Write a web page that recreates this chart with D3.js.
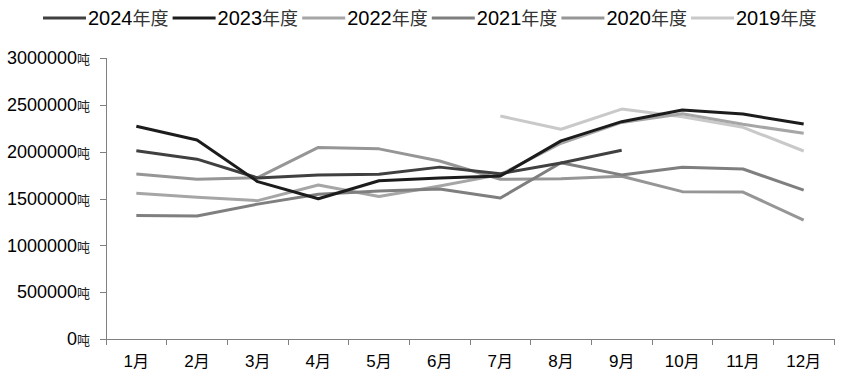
<!DOCTYPE html>
<html>
<head>
<meta charset="utf-8">
<script src="https://cdn.jsdelivr.net/npm/d3@7"></script>
<style>
  body { margin: 0; background: #fff; }
  svg { display: block; }
  .axis path, .axis line { stroke: #808080; shape-rendering: crispEdges; }
  .axis text { fill: #000; }
</style>
</head>
<body>
<svg id="chart" width="844" height="380"></svg>
<script>
// 月份与年度
const months = ['1月', '2月', '3月', '4月', '5月', '6月', '7月', '8月', '9月', '10月', '11月', '12月'];
const years = ['2024年度', '2023年度', '2022年度', '2021年度', '2020年度', '2019年度'];

// 各年度数据（吨），null 表示无数据
const data2024 = [2010000, 1920000, 1720000, 1750000, 1760000, 1835000, 1765000, 1880000, 2015000, null, null, null];
const data2023 = [2272000, 2125000, 1680000, 1498000, 1690000, 1720000, 1740000, 2115000, 2320000, 2445000, 2402000, 2295000];
const data2022 = [1555000, 1513000, 1477000, 1644000, 1522000, 1633000, 1755000, 2090000, 2312000, 2405000, 2292000, 2196000];
const data2021 = [1318000, 1313000, 1440000, 1545000, 1580000, 1602000, 1505000, 1882000, 1752000, 1833000, 1815000, 1590000];
const data2020 = [1761000, 1705000, 1722000, 2045000, 2030000, 1900000, 1705000, 1710000, 1738000, 1573000, 1569000, 1270000];
const data2019 = [null, null, null, null, null, null, 2381000, 2239000, 2455000, 2373000, 2260000, 2007000];

const yTicks = [0, 500000, 1000000, 1500000, 2000000, 2500000, 3000000];

const seriesValues = [data2024, data2023, data2022, data2021, data2020, data2019];
const colors = ['#404040', '#1c1c1c', '#a6a6a6', '#7f7f7f', '#969696', '#c9c9c9'];

const svg = d3.select('#chart');
const margin = { top: 58, right: 10, bottom: 41, left: 106 };
const width = 834 - margin.left;
const height = 339 - margin.top;

const g = svg.append('g')
  .attr('transform', `translate(${margin.left},${margin.top})`);

const x = d3.scaleBand().domain(months).range([0, width]);
const y = d3.scaleLinear().domain([0, 3000000]).range([height, 0]);

// Y 轴
const yAxis = g.append('g')
  .attr('class', 'axis')
  .call(d3.axisLeft(y).tickValues(yTicks).tickSize(6).tickPadding(10).tickFormat(d => d));
yAxis.selectAll('text')
  .style('font-family', 'Arial, "Liberation Sans", sans-serif')
  .style('font-size', '18px')
  .each(function (d) {
    const t = d3.select(this);
    t.text('');
    t.append('tspan').text(d);
    t.append('tspan')
      .style('font-size', '13px')
      .style('font-family', '"Noto Sans CJK SC", sans-serif')
      .style('fill', '#222')
      .text('吨');
  });

// X 轴（刻度在分类边界上）
const xAxis = g.append('g')
  .attr('class', 'axis')
  .attr('transform', `translate(0,${height})`)
  .call(d3.axisBottom(x).tickSize(0).tickPadding(16));
xAxis.selectAll('text')
  .style('font-family', '"Liberation Sans Narrow", "Arial Narrow", sans-serif')
  .style('font-size', '17px')
  .each(function () {
    const t = d3.select(this);
    const s = t.text();
    t.text('');
    t.append('tspan').text(s.replace('月', ''));
    t.append('tspan')
      .style('font-family', '"Noto Sans CJK SC", sans-serif')
      .style('font-size', '16px')
      .text('月');
  });

const boundaries = d3.range(months.length + 1).map(i => i * x.step());
g.append('g')
  .attr('class', 'axis')
  .selectAll('line')
  .data(boundaries)
  .enter()
  .append('line')
  .attr('x1', d => d).attr('x2', d => d)
  .attr('y1', height).attr('y2', height + 6);

// 折线
const line = d3.line()
  .defined(d => d != null)
  .x((d, i) => x(months[i]) + x.bandwidth() / 2)
  .y(d => y(d));

// 先画浅色，后画深色
const order = [5, 2, 4, 3, 0, 1];
order.forEach(k => {
  g.append('path')
    .datum(seriesValues[k])
    .attr('fill', 'none')
    .attr('stroke', colors[k])
    .attr('stroke-width', 3)
    .attr('stroke-linejoin', 'round')
    .attr('d', line);
});

// 图例
const legend = svg.append('g').attr('transform', 'translate(43,18)');
years.forEach((name, i) => {
  const item = legend.append('g').attr('transform', `translate(${i * 129.6},0)`);
  item.append('line')
    .attr('x1', 0).attr('x2', 43)
    .attr('y1', 0).attr('y2', 0)
    .attr('stroke', colors[i])
    .attr('stroke-width', 3);
  const t = item.append('text')
    .attr('x', 45)
    .attr('y', 7);
  t.append('tspan')
    .style('font-family', '"Liberation Sans Narrow", "Arial Narrow", sans-serif')
    .style('font-size', '20px')
    .text(name.replace('年度', ''));
  t.append('tspan')
    .style('font-family', '"Noto Sans CJK SC", sans-serif')
    .style('font-size', '18px')
    .style('fill', '#333')
    .text('年度');
});
</script>
</body>
</html>
